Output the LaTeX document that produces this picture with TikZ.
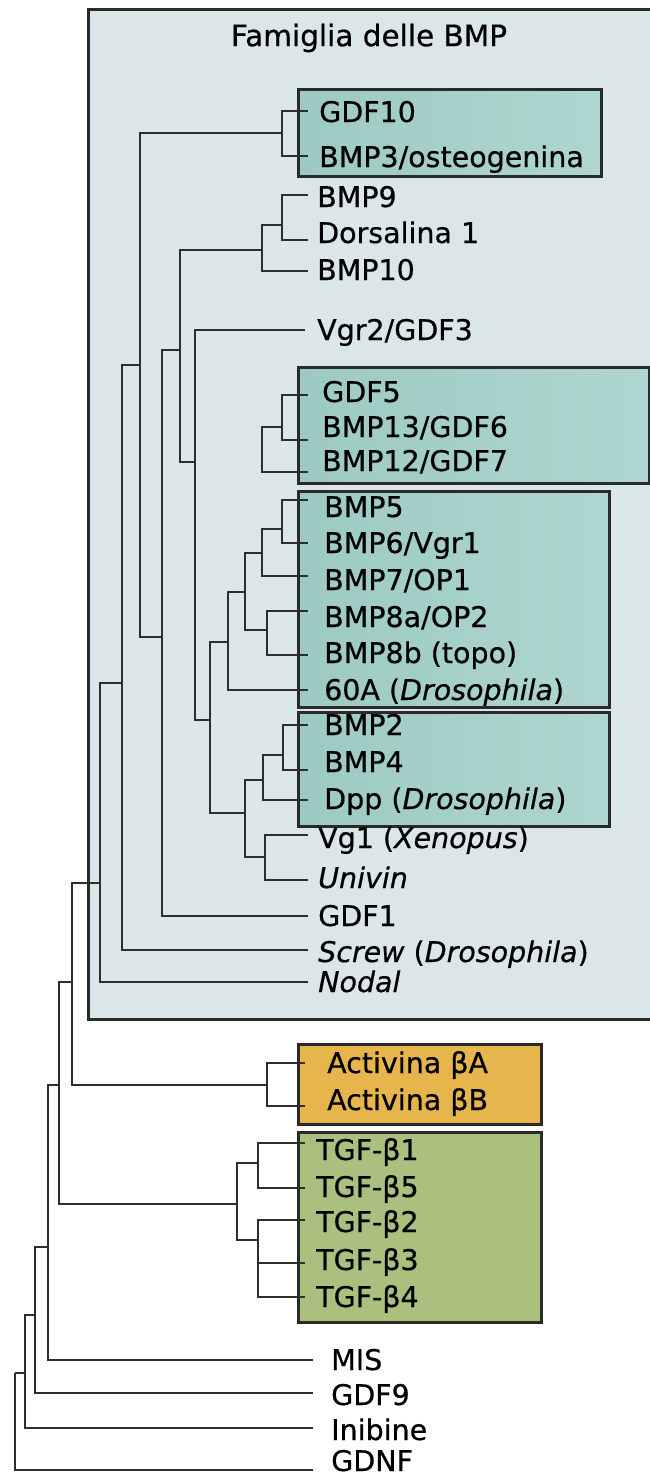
\documentclass[tikz,border=0pt]{standalone}
\usepackage{fontspec}
\setmainfont{DejaVu Sans}[UprightFeatures={FakeBold=0.6}, ItalicFeatures={FakeBold=0.6}]
\definecolor{bmpbg}{HTML}{DAE6E7}
\definecolor{boxteal}{HTML}{9CCAC2}
\definecolor{boxtealr}{HTML}{AFD6D0}
\definecolor{boxgold}{HTML}{E6B64C}
\definecolor{boxgreen}{HTML}{A9C07E}
\definecolor{treec}{HTML}{2E2E2E}
\definecolor{framec}{HTML}{2A2A2A}
\begin{document}
\begin{tikzpicture}[x=1pt,y=-1pt,
  tree/.style={line width=2.7pt, draw=treec, line join=miter},
  frame/.style={line width=2.6pt, draw=framec},
  lab/.style={anchor=base west, inner sep=0pt, font=\fontsize{28.5}{30}\selectfont},
  ttl/.style={inner sep=0pt, font=\fontsize{29.5}{31}\selectfont}]
\clip (0,0) rectangle (650,1475);
\useasboundingbox (0,0) rectangle (650,1475);
% background boxes
\node[frame, fill=bmpbg, rectangle, minimum width=590pt, minimum height=1010pt, anchor=north west, inner sep=0pt] (bmpbox) at (87,8) {};
\node[ttl] (title) at (369,38) {Famiglia delle BMP};
\node[frame, left color=boxteal, right color=boxtealr, anchor=north west, minimum width=303pt, minimum height=87pt, inner sep=0pt] (box1) at (297,88) {};
\node[frame, left color=boxteal, right color=boxtealr, anchor=north west, minimum width=351pt, minimum height=116pt, inner sep=0pt] (box2) at (297,366) {};
\node[frame, left color=boxteal, right color=boxtealr, anchor=north west, minimum width=311pt, minimum height=216pt, inner sep=0pt] (box3) at (297,490) {};
\node[frame, left color=boxteal, right color=boxtealr, anchor=north west, minimum width=311pt, minimum height=114pt, inner sep=0pt] (box4) at (297,711) {};
\node[frame, fill=boxgold, anchor=north west, minimum width=243pt, minimum height=80pt, inner sep=0pt] (box5) at (297,1043) {};
\node[frame, fill=boxgreen, anchor=north west, minimum width=243pt, minimum height=190pt, inner sep=0pt] (box6) at (297,1131) {};
% leaf tips
\coordinate (tGDF10) at (308,111);
\coordinate (tBMP3) at (308,156);
\coordinate (tBMP9) at (308,195);
\coordinate (tDors) at (308,240);
\coordinate (tBMP10) at (308,271);
\coordinate (tVgr2) at (305,330);
\coordinate (tGDF5) at (308,395);
\coordinate (tBMP13) at (308,440);
\coordinate (tBMP12) at (308,472);
\coordinate (tBMP5) at (308,500);
\coordinate (tBMP6) at (308,543);
\coordinate (tBMP7) at (308,576);
\coordinate (tBMP8a) at (308,611);
\coordinate (tBMP8b) at (308,655);
\coordinate (t60A) at (308,690);
\coordinate (tBMP2) at (308,725);
\coordinate (tBMP4) at (308,770);
\coordinate (tDpp) at (308,800);
\coordinate (tVg1) at (308,835);
\coordinate (tUni) at (308,880);
\coordinate (tGDF1) at (308,916);
\coordinate (tScrew) at (308,950);
\coordinate (tNodal) at (308,982);
\coordinate (tActA) at (305,1063);
\coordinate (tActB) at (305,1106);
\coordinate (tb1) at (305,1143);
\coordinate (tb5) at (305,1188);
\coordinate (tb2) at (305,1220);
\coordinate (tb3) at (305,1263);
\coordinate (tb4) at (305,1297);
\coordinate (tMIS) at (313,1360);
\coordinate (tGDF9) at (313,1393);
\coordinate (tInib) at (313,1428);
\coordinate (tGDNF) at (313,1470);
% internal nodes
\coordinate (n1) at (282,133);
\coordinate (n2) at (282,225);
\coordinate (n3) at (262,250);
\coordinate (n4) at (180,350);
\coordinate (n5) at (195,462);
\coordinate (g5) at (282,427);
\coordinate (g6) at (262,450);
\coordinate (b1) at (282,529);
\coordinate (b2) at (262,553);
\coordinate (b3) at (245,592);
\coordinate (b8) at (267,630);
\coordinate (b4) at (228,642);
\coordinate (n6) at (210,720);
\coordinate (d1) at (283,755);
\coordinate (d2) at (263,780);
\coordinate (v1) at (265,857);
\coordinate (d3) at (245,813);
\coordinate (n7) at (162,637);
\coordinate (n8) at (140,365);
\coordinate (n9) at (122,683);
\coordinate (n10) at (100,883);
\coordinate (a1) at (267,1085);
\coordinate (n11) at (72,982);
\coordinate (tt1) at (258,1163);
\coordinate (tt2) at (258,1240);
\coordinate (tt3) at (237,1204);
\coordinate (n12) at (59,1085);
\coordinate (n13) at (48,1247);
\coordinate (n14) at (35,1315);
\coordinate (n15) at (25,1373);
\coordinate (n16) at (15,1373);
% branches
\draw[tree] (n16) |- (n15); \draw[tree] (n16) |- (tGDNF);
\draw[tree] (n15) |- (n14); \draw[tree] (n15) |- (tInib);
\draw[tree] (n14) |- (n13); \draw[tree] (n14) |- (tGDF9);
\draw[tree] (n13) |- (n12); \draw[tree] (n13) |- (tMIS);
\draw[tree] (n12) |- (n11); \draw[tree] (n12) |- (tt3);
\draw[tree] (n11) |- (n10); \draw[tree] (n11) |- (a1);
\draw[tree] (n10) |- (n9); \draw[tree] (n10) |- (tNodal);
\draw[tree] (n9) |- (n8); \draw[tree] (n9) |- (tScrew);
\draw[tree] (n8) |- (n1); \draw[tree] (n8) |- (n7);
\draw[tree] (n7) |- (n4); \draw[tree] (n7) |- (tGDF1);
\draw[tree] (n4) |- (n3); \draw[tree] (n4) |- (n5);
\draw[tree] (n3) |- (n2); \draw[tree] (n3) |- (tBMP10);
\draw[tree] (n2) |- (tBMP9); \draw[tree] (n2) |- (tDors);
\draw[tree] (n1) |- (tGDF10); \draw[tree] (n1) |- (tBMP3);
\draw[tree] (n5) |- (tVgr2); \draw[tree] (n5) |- (n6);
\draw[tree] (n6) |- (b4); \draw[tree] (n6) |- (d3);
\draw[tree] (b4) |- (b3); \draw[tree] (b4) |- (t60A);
\draw[tree] (b3) |- (b2); \draw[tree] (b3) |- (b8);
\draw[tree] (b2) |- (b1); \draw[tree] (b2) |- (tBMP7);
\draw[tree] (b1) |- (tBMP5); \draw[tree] (b1) |- (tBMP6);
\draw[tree] (b8) |- (tBMP8a); \draw[tree] (b8) |- (tBMP8b);
\draw[tree] (d3) |- (d2); \draw[tree] (d3) |- (v1);
\draw[tree] (d2) |- (d1); \draw[tree] (d2) |- (tDpp);
\draw[tree] (d1) |- (tBMP2); \draw[tree] (d1) |- (tBMP4);
\draw[tree] (v1) |- (tVg1); \draw[tree] (v1) |- (tUni);
\draw[tree] (g6) |- (g5); \draw[tree] (g6) |- (tBMP12);
\draw[tree] (g5) |- (tGDF5); \draw[tree] (g5) |- (tBMP13);
\draw[tree] (a1) |- (tActA); \draw[tree] (a1) |- (tActB);
\draw[tree] (tt3) |- (tt1); \draw[tree] (tt3) |- (tt2);
\draw[tree] (tt1) |- (tb1); \draw[tree] (tt1) |- (tb5);
\draw[tree] (tt2) |- (tb2); \draw[tree] (tt2) |- (tb3); \draw[tree] (tt2) |- (tb4);
% labels
\node[lab] (lGDF10) at (319,122) {GDF10};
\node[lab] (lBMP3) at (319,167) {BMP3/osteogenina};
\node[lab] (lBMP9) at (317,207) {BMP9};
\node[lab] (lDors) at (317,243) {Dorsalina 1};
\node[lab] (lBMP10) at (317,280) {BMP10};
\node[lab] (lVgr2) at (317,340) {Vgr2/GDF3};
\node[lab] (lGDF5) at (322,402) {GDF5};
\node[lab] (lBMP13) at (322,437) {BMP13/GDF6};
\node[lab] (lBMP12) at (322,471) {BMP12/GDF7};
\node[lab] (lBMP5) at (324,517) {BMP5};
\node[lab] (lBMP6) at (324,553) {BMP6/Vgr1};
\node[lab] (lBMP7) at (324,590) {BMP7/OP1};
\node[lab] (lBMP8a) at (324,627) {BMP8a/OP2};
\node[lab] (lBMP8b) at (324,663) {BMP8b (topo)};
\node[lab] (l60A) at (324,700) {60A (\textit{Drosophila})};
\node[lab] (lBMP2) at (324,735) {BMP2};
\node[lab] (lBMP4) at (324,772) {BMP4};
\node[lab] (lDpp) at (324,809) {Dpp (\textit{Drosophila})};
\node[lab] (lVg1) at (318,848) {Vg1 (\textit{Xenopus})};
\node[lab] (lUni) at (318,888) {\textit{Univin}};
\node[lab] (lGDF1) at (318,926) {GDF1};
\node[lab] (lScrew) at (318,962) {\textit{Screw} (\textit{Drosophila})};
\node[lab] (lNodal) at (318,992) {\textit{Nodal}};
\node[lab] (lActA) at (327,1073) {Activina βA};
\node[lab] (lActB) at (327,1110) {Activina βB};
\node[lab] (lb1) at (316,1160) {TGF-β1};
\node[lab] (lb5) at (316,1197) {TGF-β5};
\node[lab] (lb2) at (316,1232) {TGF-β2};
\node[lab] (lb3) at (316,1270) {TGF-β3};
\node[lab] (lb4) at (316,1307) {TGF-β4};
\node[lab] (lMIS) at (331,1370) {MIS};
\node[lab] (lGDF9) at (331,1405) {GDF9};
\node[lab] (lInib) at (331,1440) {Inibine};
\node[lab] (lGDNF) at (331,1471) {GDNF};
\end{tikzpicture}
\end{document}
